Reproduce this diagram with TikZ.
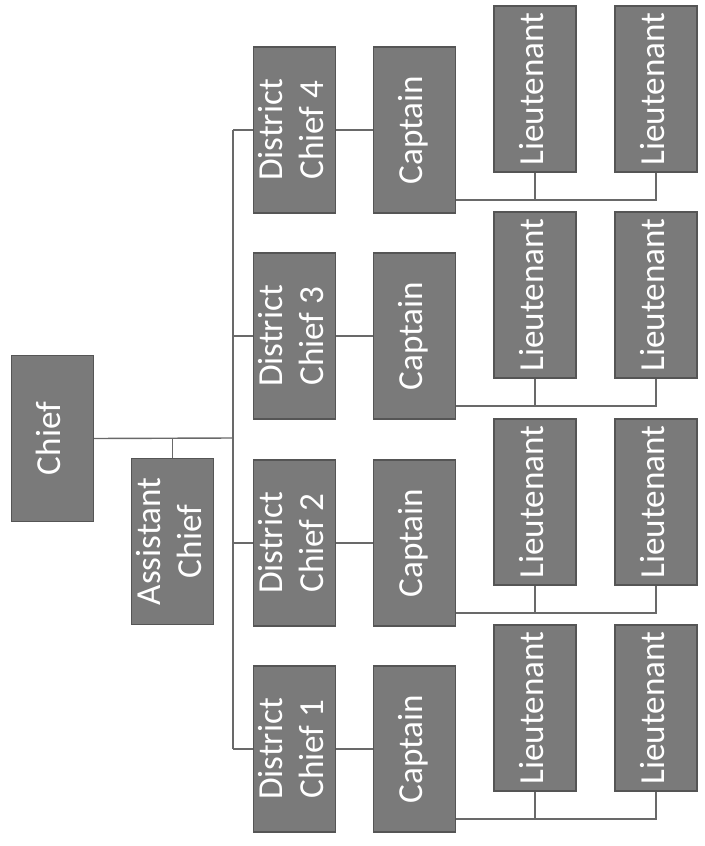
\documentclass[tikz,border=0pt]{standalone}
\usepackage{fontspec}
\setmainfont{Carlito}
\usepackage{graphicx}
\definecolor{boxgray}{RGB}{122,122,122}
\definecolor{edgegray}{RGB}{85,85,85}
\definecolor{linegray}{RGB}{105,105,105}
\newcommand{\vlabel}[1]{\rotatebox{90}{\begin{tabular}{@{}c@{}}#1\end{tabular}}}
\tikzset{
  rank/.style={draw=edgegray, line width=0.9pt, fill=boxgray, text=white,
    minimum width=2.05cm, minimum height=4.15cm, inner sep=0pt,
    font=\fontsize{25}{29}\selectfont},
  link/.style={draw=linegray, line width=1pt}
}

\begin{document}
\begin{tikzpicture}[x=0.025cm, y=-0.025cm]
    \fill[white] (0,0) rectangle (704,846);
    \node[rank] (chief) at (52.5,438.5) {\vlabel{Chief}};
    \node[rank] (asst) at (172.5,541.5) {\vlabel{Assistant\\Chief}};
    \coordinate (trunk) at (233,438);
    \foreach \i/\y in {1/749,2/543,3/336,4/130} {
      \node[rank] (dc\i) at (294.5,\y) {\vlabel{District\\Chief \i}};
      \node[rank] (cap\i) at (414.5,\y) {\vlabel{Captain}};
      \node[rank] (lta\i) at (535,\y-41) {\vlabel{Lieutenant}};
      \node[rank] (ltb\i) at (656,\y-41) {\vlabel{Lieutenant}};
      \coordinate (bus\i) at (656,\y+70);
      \draw[link] (dc\i.west -| trunk) -- (dc\i.west);
      \draw[link] (dc\i.east) -- (cap\i.west);
      \draw[link] (cap\i.east |- bus\i) -- (bus\i) -- (ltb\i.south);
      \draw[link] (lta\i.south) -- (lta\i.south |- bus\i);
    }
    \draw[link] (chief.east) -- (trunk);
    \draw[link] (asst.north) -- (asst.north |- trunk);
    \draw[link] (dc4.west -| trunk) -- (dc1.west -| trunk);
\end{tikzpicture}
\end{document}
